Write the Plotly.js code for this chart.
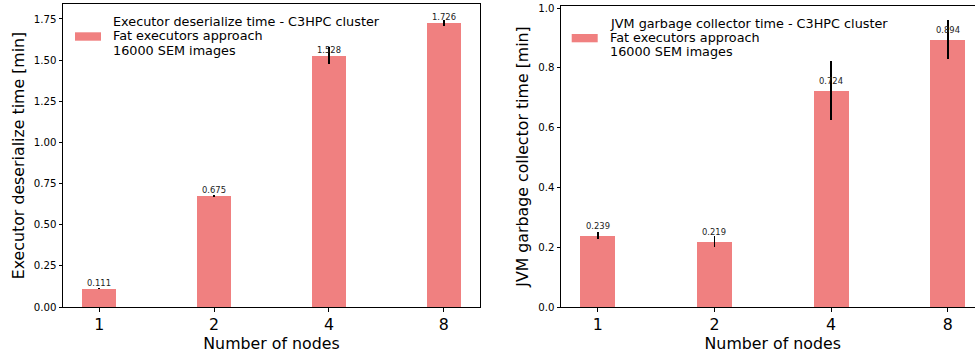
<!DOCTYPE html>
<html>
<head>
<meta charset="utf-8">
<script src="https://cdn.plot.ly/plotly-3.0.1.min.js"></script>
<style>
  html, body { margin: 0; padding: 0; overflow: hidden; background: #fff; }
  #chart { width: 990px; height: 354px; }
</style>
</head>
<body>
<div id="chart"></div>
<script>
// ---- data ----
const nodes = ['1', '2', '4', '8'];
const deserVals = [0.111, 0.675, 1.528, 1.726];
const deserErr = [0.003, 0.004, 0.05, 0.02];
const gcVals = [0.239, 0.219, 0.724, 0.894];
const gcErr = [0.013, 0.017, 0.1, 0.066];
const deserTicks = [0, 0.25, 0.5, 0.75, 1.0, 1.25, 1.5, 1.75];
const gcTicks = [0, 0.2, 0.4, 0.6, 0.8, 1.0];
const deserLegend = ['Executor deserialize time - C3HPC cluster', 'Fat executors approach', '16000 SEM images'];
const gcLegend = ['JVM garbage collector time - C3HPC cluster', 'Fat executors approach', '16000 SEM images'];
const xTitle = 'Number of nodes';
const deserYTitle = 'Executor deserialize time [min]';
const gcYTitle = 'JVM garbage collector time [min]';

// ---- styling ----
const W = 990, H = 354;
const FONT = 'DejaVu Sans, sans-serif';
const BAR = '#F08080';
const px = v => v / W;
const py = v => 1 - v / H;

function barTrace(vals, errs, xa, ya) {
  return {
    type: 'bar', x: nodes, y: vals, xaxis: xa, yaxis: ya,
    width: 0.3, marker: { color: BAR, line: { width: 0 } },
    error_y: { type: 'data', array: errs, visible: true, color: '#000', thickness: 1.6, width: 0 },
    showlegend: false, hoverinfo: 'skip'
  };
}

function xAxis(domain, anchor) {
  return {
    domain: domain, anchor: anchor, type: 'category', range: [-0.315, 3.315],
    categoryorder: 'array', categoryarray: nodes,
    showline: true, mirror: true, linecolor: '#000', linewidth: 1,
    ticks: 'outside', ticklen: 3.5, tickwidth: 1, tickcolor: '#000',
    showgrid: false, zeroline: false,
    tickfont: { family: FONT, size: 15.8, color: '#000' },
    title: { text: xTitle, font: { family: FONT, size: 15.8, color: '#000' }, standoff: 0 },
    automargin: false, fixedrange: true
  };
}

function yAxis(domain, anchor, range, ticks, fmt, title) {
  return {
    domain: domain, anchor: anchor, range: range,
    tickmode: 'array', tickvals: ticks, tickformat: fmt,
    showline: true, mirror: true, linecolor: '#000', linewidth: 1,
    ticks: 'outside', ticklen: 3.5, tickwidth: 1, tickcolor: '#000',
    showgrid: false, zeroline: false,
    tickfont: { family: FONT, size: 10.2, color: '#000' },
    title: { text: title, font: { family: FONT, size: 15.8, color: '#000' }, standoff: 5 },
    automargin: false, fixedrange: true
  };
}

const data = [
  barTrace(deserVals, deserErr, 'x', 'y'),
  barTrace(gcVals, gcErr, 'x2', 'y2')
];

const annotations = [];
// value labels above bars (x = category index on the category axis)
deserVals.forEach((v, i) => annotations.push({
  xref: 'x', yref: 'y', x: nodes.indexOf(nodes[i]), y: v, text: v.toFixed(3), showarrow: false,
  xanchor: 'center', yanchor: 'middle', yshift: 6,
  font: { family: FONT, size: 8.4, color: '#222' }
}));
gcVals.forEach((v, i) => annotations.push({
  xref: 'x2', yref: 'y2', x: nodes.indexOf(nodes[i]), y: v, text: v.toFixed(3), showarrow: false,
  xanchor: 'center', yanchor: 'middle', yshift: 10,
  font: { family: FONT, size: 8.4, color: '#222' }
}));
// legend texts
const legendLineY = [21.7, 35.9, 50.1];
deserLegend.forEach((t, i) => annotations.push({
  xref: 'paper', yref: 'paper', x: px(111), y: py(legendLineY[i]), text: t, showarrow: false,
  xanchor: 'left', yanchor: 'middle', font: { family: FONT, size: 12.8, color: '#000' }
}));
gcLegend.forEach((t, i) => annotations.push({
  xref: 'paper', yref: 'paper', x: px(608.3), y: py(legendLineY[i] + 1.8), text: t, showarrow: false,
  xanchor: 'left', yanchor: 'middle', font: { family: FONT, size: 12.8, color: '#000' }
}));

const shapes = [
  { type: 'rect', xref: 'paper', yref: 'paper', x0: px(75), x1: px(101), y0: py(40.7), y1: py(32.3), fillcolor: BAR, line: { width: 0 } },
  { type: 'rect', xref: 'paper', yref: 'paper', x0: px(571.7), x1: px(597.7), y0: py(42.3), y1: py(34), fillcolor: BAR, line: { width: 0 } }
];

const layout = {
  width: W, height: H,
  margin: { l: 0, r: 0, t: 0, b: 0 },
  paper_bgcolor: '#fff', plot_bgcolor: '#fff',
  showlegend: false, bargap: 0,
  font: { family: FONT, color: '#000' },
  xaxis: xAxis([px(63), px(480)], 'y'),
  yaxis: yAxis([py(307), py(4)], 'x', [0, 1.841], deserTicks, '.2f', deserYTitle),
  xaxis2: xAxis([px(561), px(984.5)], 'y2'),
  yaxis2: yAxis([py(307), py(6)], 'x2', [0, 1.0067], gcTicks, '.1f', gcYTitle),
  annotations: annotations,
  shapes: shapes
};

Plotly.newPlot('chart', data, layout, { staticPlot: true, displayModeBar: false });
</script>
</body>
</html>
